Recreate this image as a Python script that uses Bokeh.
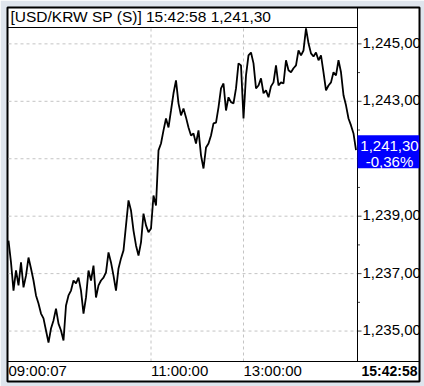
from bokeh.plotting import figure
from bokeh.models import Range1d
from bokeh.core.properties import value
from bokeh.embed import file_html
from bokeh.resources import INLINE

# ---- data ----
prices = [
    1238.15, 1237.39, 1236.41, 1237.11, 1236.59, 1237.39, 1236.52, 1236.93, 1237.56, 1237.18,
    1236.76, 1236.24, 1235.96, 1235.61, 1235.44, 1235.02, 1234.60, 1235.09, 1235.37, 1235.78,
    1235.26, 1235.02, 1234.67, 1235.89, 1236.24, 1236.41, 1236.76, 1236.66, 1236.86, 1236.41,
    1235.61, 1236.17, 1237.11, 1236.76, 1237.28, 1236.17, 1236.59, 1236.76, 1236.86, 1237.04,
    1237.74, 1237.39, 1236.93, 1236.41, 1237.18, 1237.53, 1237.81, 1238.68, 1239.55, 1239.20,
    1238.50, 1237.98, 1237.63, 1238.09, 1239.09, 1238.68, 1238.44, 1238.57, 1239.72, 1239.37,
    1241.29, 1241.53, 1241.99, 1242.40, 1242.09, 1242.68, 1243.28, 1243.73, 1242.93, 1242.51,
    1242.75, 1242.44, 1242.09, 1241.81, 1241.88, 1241.53, 1241.99, 1241.12, 1240.66, 1241.39,
    1241.53, 1241.81, 1242.23, 1242.26, 1242.79, 1243.45, 1243.62, 1242.68, 1243.14, 1242.97,
    1242.93, 1243.45, 1244.32, 1244.25, 1242.40, 1243.90, 1244.60, 1244.70, 1244.32, 1243.45,
    1243.55, 1243.80, 1243.28, 1243.38, 1243.14, 1243.52, 1243.66, 1244.25, 1243.55, 1243.66,
    1243.62, 1244.43, 1244.08, 1244.01, 1244.15, 1244.25, 1244.77, 1244.60, 1244.77, 1245.54,
    1245.02, 1244.67, 1244.56, 1244.70, 1244.43, 1244.60, 1244.01, 1243.38, 1243.55, 1243.66,
    1244.01, 1243.90, 1244.43, 1244.01, 1243.21, 1242.86, 1242.40, 1242.16, 1241.88, 1241.30,
]
x_tick_idx = [0, 57, 94]
x_tick_labels = ["09:00:07", "11:00:00", "13:00:00"]
y_major = [1235, 1237, 1239, 1241, 1243, 1245]
y_minor = [1236, 1238, 1240, 1242, 1244]
y_labels = ["1,235,00", "1,237,00", "1,239,00", "1,241,00", "1,243,00", "1,245,00"]
title_text = "[USD/KRW SP (S)] 15:42:58  1,241,30"
last_time = "15:42:58"
last_price_text = "1,241,30"
change_text = "-0,36%"

# ---- layout (pixels) ----
W, H = 424, 386
FL, FR, FT, FB = 7, 419, 7, 381          # frame = inside of the black border
PL, PR, PT, PB = 8, 357, 27, 361          # price pane
Y0, Y1 = 1233.94, 1245.57                 # price values at PB and PT
n = len(prices)
dx = (PR - PL) / (n - 0.4)                # pixels per sample
ppu = (PB - PT) / (Y1 - Y0)               # pixels per price unit


def X(px):
    return (px - PL) / dx


def Y(py):
    return Y1 - (py - PT) / ppu


FONT = "Liberation Sans"
GRID = "#c4c4c4"

p = figure(width=W, height=H, output_backend="svg", toolbar_location=None,
           x_range=Range1d(X(FL), X(FR)), y_range=Range1d(Y(FB), Y(FT)),
           x_axis_location=None, y_axis_location=None,
           min_border_left=FL, min_border_right=W - FR, min_border_top=FT, min_border_bottom=H - FB)
p.background_fill_color = "white"
p.border_fill_color = "#dfe5ed"
p.outline_line_color = "black"
p.outline_line_width = 2
p.xgrid.visible = False
p.ygrid.visible = False

# grid lines
p.segment(x0=[X(PL)] * len(y_major), y0=y_major, x1=[X(PR)] * len(y_major), y1=y_major,
          line_color=GRID, line_dash="3 3", line_width=1)
gx = x_tick_idx[1:]
p.segment(x0=gx, y0=[Y(PB)] * len(gx), x1=gx, y1=[Y(PT)] * len(gx),
          line_color=GRID, line_dash="3 3", line_width=1)

# price line
p.line(list(range(n)), prices, line_color="black", line_width=1.8)

# y-axis ticks and labels (right)
p.segment(x0=[X(PR)] * len(y_major), y0=y_major, x1=[X(PR + 4)] * len(y_major), y1=y_major,
          line_color="#444444", line_width=1)
p.segment(x0=[X(PR)] * len(y_minor), y0=y_minor, x1=[X(PR + 2.5)] * len(y_minor), y1=y_minor,
          line_color="#444444", line_width=1)
p.text(x=[X(PR + 5)] * len(y_major), y=[v + 1 / ppu for v in y_major], text=y_labels,
       text_font=value(FONT), text_font_size="15px", text_color="black",
       text_align="left", text_baseline="middle")

# x-axis labels (bottom)
p.text(x=x_tick_idx, y=[Y(370)] * len(x_tick_idx), text=x_tick_labels,
       text_font=value(FONT), text_font_size="15px", text_color="black",
       text_align="left", text_baseline="middle")

# separators
p.segment(x0=[X(FL), X(PR), X(FL)], y0=[Y(PT), Y(FT), Y(PB)],
          x1=[X(PR), X(PR), X(FR)], y1=[Y(PT), Y(PB), Y(PB)],
          line_color="black", line_width=1)

# title
p.text(x=[X(10)], y=[Y(16)], text=[title_text],
       text_font=value(FONT), text_font_size="15.5px", text_color="black",
       text_align="left", text_baseline="middle")

# current value box
last = prices[-1]
p.quad(left=[X(PR)], right=[X(FR)], top=[last + 15 / ppu], bottom=[last - 18 / ppu],
       fill_color="#0000ff", line_color=None)
p.text(x=[X(389), X(389)], y=[last + 4.5 / ppu, last - 11.5 / ppu], text=[last_price_text, change_text],
       text_font=value(FONT), text_font_size="15px", text_color="white",
       text_align="center", text_baseline="middle")

# last time
p.text(x=[X(417)], y=[Y(370)], text=[last_time],
       text_font=value(FONT), text_font_size="14px", text_font_style="bold", text_color="black",
       text_align="right", text_baseline="middle")

open("out.html", "w").write(file_html(p, INLINE))
